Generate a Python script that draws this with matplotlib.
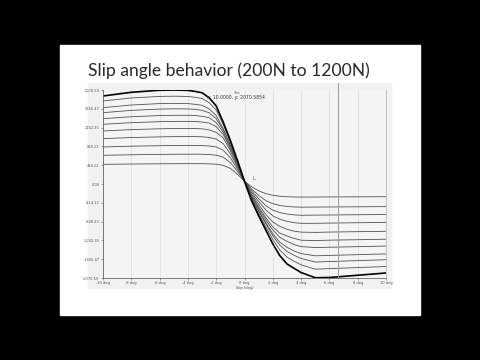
import matplotlib
matplotlib.use("Agg")
import matplotlib.pyplot as plt
from matplotlib.patches import Rectangle

# slip angle (deg) and lateral force (N) for each vertical load
slip = [-10, -8, -6, -5, -4, -3.5, -3, -2.5, -2, -1.5, -1, -0.5, 0,
        0.5, 1, 1.5, 2, 2.5, 3, 3.5, 4, 5, 6, 8, 10]

fy_200 = [433, 440, 445, 447, 448, 448, 447, 444, 436, 410, 345, 215, 60,
          -62, -150, -212, -248, -270, -281, -286, -288, -287, -285, -283, -280]
fy_300 = [632, 644, 652, 655, 656, 657, 655, 650, 634, 590, 472, 280, 60,
          -110, -250, -365, -432, -472, -495, -506, -510, -508, -506, -502, -498]
fy_400 = [815, 833, 844, 848, 850, 850, 846, 838, 815, 742, 575, 332, 60,
          -150, -322, -475, -575, -630, -662, -680, -688, -686, -683, -677, -672]
fy_500 = [1000, 1023, 1038, 1043, 1045, 1045, 1040, 1025, 990, 888, 665, 376, 60,
          -189, -385, -568, -703, -775, -822, -852, -866, -866, -861, -853, -846]
fy_600 = [1168, 1198, 1216, 1221, 1223, 1222, 1215, 1193, 1138, 1015, 733, 410, 60,
          -227, -450, -668, -836, -932, -998, -1038, -1060, -1066, -1059, -1050, -1042]
fy_700 = [1315, 1351, 1373, 1378, 1380, 1377, 1365, 1342, 1262, 1087, 781, 435, 60,
          -255, -502, -740, -945, -1085, -1144, -1198, -1238, -1246, -1237, -1227, -1216]
fy_800 = [1439, 1482, 1507, 1513, 1513, 1510, 1491, 1460, 1351, 1139, 813, 450, 60,
          -275, -538, -788, -1014, -1176, -1261, -1335, -1379, -1400, -1393, -1380, -1367]
fy_900 = [1571, 1622, 1650, 1656, 1653, 1645, 1622, 1570, 1441, 1188, 845, 464, 60,
          -300, -580, -846, -1095, -1284, -1394, -1476, -1532, -1582, -1573, -1556, -1540]
fy_1000 = [1681, 1740, 1771, 1776, 1771, 1755, 1733, 1654, 1510, 1218, 865, 474, 60,
           -314, -602, -875, -1140, -1350, -1485, -1570, -1640, -1718, -1708, -1688, -1668]
fy_1100 = [1829, 1895, 1929, 1934, 1928, 1910, 1882, 1792, 1629, 1304, 922, 502, 60,
           -339, -649, -938, -1224, -1457, -1610, -1703, -1780, -1876, -1864, -1841, -1818]
fy_1200 = [1939, 2020, 2065, 2070, 2062, 2040, 2010, 1900, 1720, 1360, 960, 520, 60,
           -370, -700, -1010, -1320, -1580, -1760, -1857, -1950, -2065, -2060, -2010, -1960]

curves = [fy_200, fy_300, fy_400, fy_500, fy_600, fy_700,
          fy_800, fy_900, fy_1000, fy_1100]

y_max = 2070.5854
x_ticks = [-10, -8, -6, -4, -2, 0, 2, 4, 6, 8, 10]
cursor_x = 6.6

W, H = 480, 360
fig = plt.figure(figsize=(4.8, 3.6), dpi=100, facecolor='black')

def box(l, t, r, b):
    return [l / W, 1 - b / H, (r - l) / W, (b - t) / H]

# white slide
fig.patches.append(Rectangle((60 / W, 1 - 315 / H), 360 / W, 270 / H,
                             transform=fig.transFigure, color='white', zorder=-2))
# grey chart panel
fig.patches.append(Rectangle((88 / W, 1 - 288 / H), 303 / W, 205 / H,
                             transform=fig.transFigure, color='#f1f1f1', zorder=-1))

fig.text(229 / W, 1 - 71 / H, 'Slip angle behavior (200N to 1200N)',
         ha='center', va='center', fontsize=12.6, family='Lato',
         color='#2a2a2a')

ax = fig.add_axes(box(103, 90, 386, 278))
ax.set_facecolor('#f4f4f4')

for fy in curves:
    ax.plot(slip, fy, color='#505050', lw=0.6)
ax.plot(slip, fy_1200, color='black', lw=1.2)

ax.axvline(cursor_x, ymax=1.035, clip_on=False, color='#9a9a9a', lw=0.7)
ax.set_xlim(-10, 10)
ax.set_ylim(-y_max, y_max)
ax.set_xticks(x_ticks)
ax.set_xticklabels(['%d deg' % v for v in x_ticks])
y_ticks = [y_max * k / 5 for k in range(-5, 6)]
ax.set_yticks(y_ticks)
ax.set_yticklabels(['%.2f' % v for v in y_ticks])
ax.tick_params(labelsize=2.6, colors='#555555', length=1.5, width=0.4, pad=1)
ax.grid(axis='x', color='#dddddd', lw=0.5)
ax.spines['top'].set_visible(False)
ax.spines['right'].set_color('#bbbbbb')
ax.spines['left'].set_color('#666666')
ax.spines['bottom'].set_color('#666666')
for s in ax.spines.values():
    s.set_linewidth(0.6)

ax.set_xlabel('Slip (deg)', fontsize=2.6, color='#555555', labelpad=0.5)
ax.text(0.47, 0.995, 'Tire', transform=ax.transAxes, ha='center', va='top',
        fontsize=2.6, color='#555555')
ax.text(0.47, 0.975, 'x: 10.0000, y: 2070.5854', transform=ax.transAxes,
        ha='center', va='top', fontsize=3.3, color='#333333')
ax.text(0.6, 60, 'L', fontsize=4, color='#666666', va='bottom')

fig.savefig('out.png', dpi=100, facecolor='black')
